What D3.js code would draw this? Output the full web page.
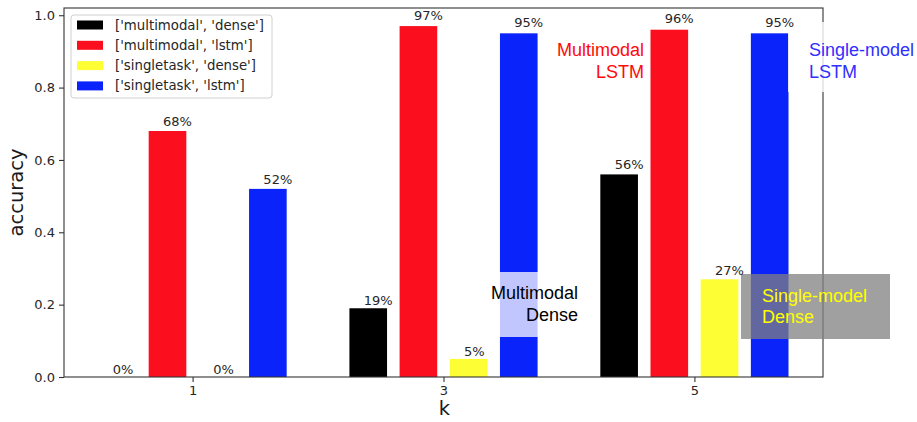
<!DOCTYPE html>
<html>
<head>
<meta charset="utf-8">
<script src="https://cdn.jsdelivr.net/npm/d3@7"></script>
<style>
  html, body { margin: 0; padding: 0; background: #fff; }
  svg { display: block; }
</style>
</head>
<body>
<svg id="chart" width="917" height="422"></svg>
<script>
// k values on the x axis
const kValues = [1, 3, 5];
const xTicks = [1, 3, 5];
const yTicks = [0.0, 0.2, 0.4, 0.6, 0.8, 1.0];

// accuracy per configuration, one entry per k
const multimodalDense = [0.00, 0.19, 0.56];
const multimodalLstm = [0.68, 0.97, 0.96];
const singletaskDense = [0.00, 0.05, 0.27];
const singletaskLstm = [0.52, 0.95, 0.95];

const seriesNames = ["['multimodal', 'dense']", "['multimodal', 'lstm']",
                     "['singletask', 'dense']", "['singletask', 'lstm']"];
const seriesValues = [multimodalDense, multimodalLstm, singletaskDense, singletaskLstm];
const seriesColors = ["#000000", "#fb0f1e", "#fefe35", "#0b23fb"];
const seriesOffsets = [-0.6, -0.2, 0.2, 0.6];
const barWidth = 0.3;

const svg = d3.select("#chart");
const x = d3.scaleLinear().domain([-0.025, 6.025]).range([64, 823]);
const y = d3.scaleLinear().domain([0, 1.02]).range([377, 8]);
const tickFont = "'DejaVu Sans', sans-serif";

// bars
seriesValues.forEach((vals, s) => {
  svg.append("g").selectAll("rect")
    .data(vals.map((v, i) => ({ k: kValues[i], v })))
    .join("rect")
    .attr("x", d => x(d.k + seriesOffsets[s] - barWidth / 2))
    .attr("width", d => x(d.k + seriesOffsets[s] + barWidth / 2) - x(d.k + seriesOffsets[s] - barWidth / 2))
    .attr("y", d => y(d.v))
    .attr("height", d => y(0) - y(d.v))
    .attr("fill", seriesColors[s]);
});

// axes
const yAxis = svg.append("g").attr("transform", `translate(${x.range()[0]},0)`)
  .call(d3.axisLeft(y).tickValues(yTicks).tickFormat(d3.format(".1f")).tickSize(5).tickPadding(4));
const xAxis = svg.append("g").attr("transform", `translate(0,${y(0)})`)
  .call(d3.axisBottom(x).tickValues(xTicks).tickFormat(d3.format("d")).tickSize(5).tickPadding(4));
[yAxis, xAxis].forEach(a => {
  a.select(".domain").remove();
  a.selectAll("line").attr("stroke", "#333").attr("stroke-width", 1.1);
  a.selectAll("text").attr("font-family", tickFont).attr("font-size", 13).attr("fill", "#262626");
});

// frame
svg.append("rect")
  .attr("x", x.range()[0]).attr("y", y.range()[1])
  .attr("width", x.range()[1] - x.range()[0])
  .attr("height", y.range()[0] - y.range()[1])
  .attr("fill", "none").attr("stroke", "#333").attr("stroke-width", 1.1);

// axis titles
svg.append("text")
  .attr("transform", `translate(23,${(y.range()[0] + y.range()[1]) / 2}) rotate(-90)`)
  .attr("text-anchor", "middle")
  .attr("font-family", tickFont).attr("font-size", 19.5).attr("fill", "#1a1a1a")
  .text("accuracy");
svg.append("text")
  .attr("x", (x.range()[0] + x.range()[1]) / 2 + 1)
  .attr("y", 415)
  .attr("text-anchor", "middle")
  .attr("font-family", tickFont).attr("font-size", 19.5).attr("fill", "#1a1a1a")
  .text("k");

// legend
const legend = svg.append("g").attr("transform", "translate(71,15)");
legend.append("rect")
  .attr("width", 201).attr("height", 83).attr("rx", 3)
  .attr("fill", "rgba(255,255,255,0.8)").attr("stroke", "#d0d0d0");
seriesNames.forEach((name, i) => {
  const row = legend.append("g").attr("transform", `translate(0,${10 + i * 20.3})`);
  row.append("rect").attr("x", 6).attr("y", -4.5).attr("width", 26).attr("height", 9)
    .attr("fill", seriesColors[i]);
  row.append("text").attr("x", 44).attr("y", 4.5)
    .attr("font-family", tickFont).attr("font-size", 13.3).attr("fill", "#262626")
    .text(name);
});

// callout annotations
const noteFont = "'Liberation Sans', Arial, sans-serif";
function note(lines, opts) {
  const g = svg.append("g");
  if (opts.box) {
    g.append("rect").attr("x", opts.box[0]).attr("y", opts.box[1])
      .attr("width", opts.box[2]).attr("height", opts.box[3]).attr("fill", opts.boxFill);
  }
  lines.forEach((t, i) => {
    g.append("text")
      .attr("x", opts.x).attr("y", opts.y + i * 21.5)
      .attr("text-anchor", opts.anchor)
      .attr("font-family", noteFont).attr("font-size", 18)
      .attr("fill", opts.color)
      .text(t);
  });
}
note(["Multimodal", "LSTM"], { x: 644, y: 56, anchor: "end", color: "#ff0a0a" });
note(["Single-model", "LSTM"], { x: 809, y: 56, anchor: "start", color: "#2f2fff",
  box: [788, 22, 140, 70], boxFill: "rgba(255,255,255,0.8)" });
note(["Multimodal", "Dense"], { x: 578, y: 299, anchor: "end", color: "#000",
  box: [482, 272, 112, 65], boxFill: "rgba(255,255,255,0.75)" });
note(["Single-model", "Dense"], { x: 762, y: 301.5, anchor: "start", color: "#ffff00",
  box: [741, 274, 149, 65], boxFill: "rgba(128,128,128,0.75)" });

// value labels above each bar
seriesValues.forEach((vals, s) => {
  svg.append("g").selectAll("text")
    .data(vals.map((v, i) => ({ k: kValues[i], v })))
    .join("text")
    .attr("x", d => x(d.k + seriesOffsets[s]) - 4.5)
    .attr("y", d => y(d.v * 1.01) - 3)
    .attr("font-family", tickFont)
    .attr("font-size", 13)
    .attr("fill", "#262626")
    .text(d => Math.round(d.v * 100) + "%");
});
</script>
</body>
</html>
